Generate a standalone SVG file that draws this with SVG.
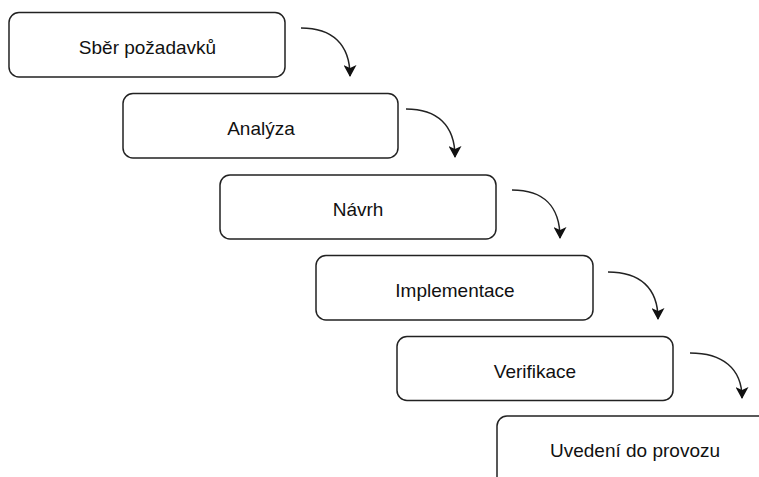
<svg xmlns="http://www.w3.org/2000/svg" width="759" height="477" viewBox="0 0 759 477">
<style>
.box{fill:#fff;stroke:#222;stroke-width:1.5}
.lbl{font-family:"Liberation Sans",Arial,sans-serif;font-size:19px;fill:#111;text-anchor:middle}
.con{fill:none;stroke:#222;stroke-width:1.5}
</style>
<defs>
<marker id="ah" markerWidth="13" markerHeight="13" refX="11" refY="6.5" orient="auto" markerUnits="userSpaceOnUse">
<path d="M0,0 L12,6.5 L0,13 L3,6.5 Z" fill="#111"/>
</marker>
</defs>
<rect width="759" height="477" fill="#fff"/>
<g id="n1"><rect class="box" x="9" y="12.5" width="276" height="64.5" rx="10"/><text class="lbl" x="147.5" y="54">Sběr požadavků</text></g>
<g id="n2"><rect class="box" x="123" y="93.5" width="275" height="64.5" rx="10"/><text class="lbl" x="261" y="135">Analýza</text></g>
<g id="n3"><rect class="box" x="220" y="175" width="276" height="64" rx="10"/><text class="lbl" x="358" y="216">Návrh</text></g>
<g id="n4"><rect class="box" x="316" y="255.5" width="277" height="64.5" rx="10"/><text class="lbl" x="455" y="297">Implementace</text></g>
<g id="n5"><rect class="box" x="397" y="336.5" width="276" height="64" rx="10"/><text class="lbl" x="535" y="378">Verifikace</text></g>
<g id="n6"><rect class="box" x="497" y="416" width="290" height="80" rx="10"/><text class="lbl" x="635" y="457">Uvedení do provozu</text></g>
<g id="connectors">
<path class="con" d="M301,28 C332,28 350,44 350,76" marker-end="url(#ah)"/>
<path class="con" d="M406,109 C437,109 455,125 455,157" marker-end="url(#ah)"/>
<path class="con" d="M512,190 C543,190 560,206 560,238" marker-end="url(#ah)"/>
<path class="con" d="M608,272 C640,272 658,288 658,319" marker-end="url(#ah)"/>
<path class="con" d="M690,353 C722,353 742,368 742,398" marker-end="url(#ah)"/>
</g>
</svg>
